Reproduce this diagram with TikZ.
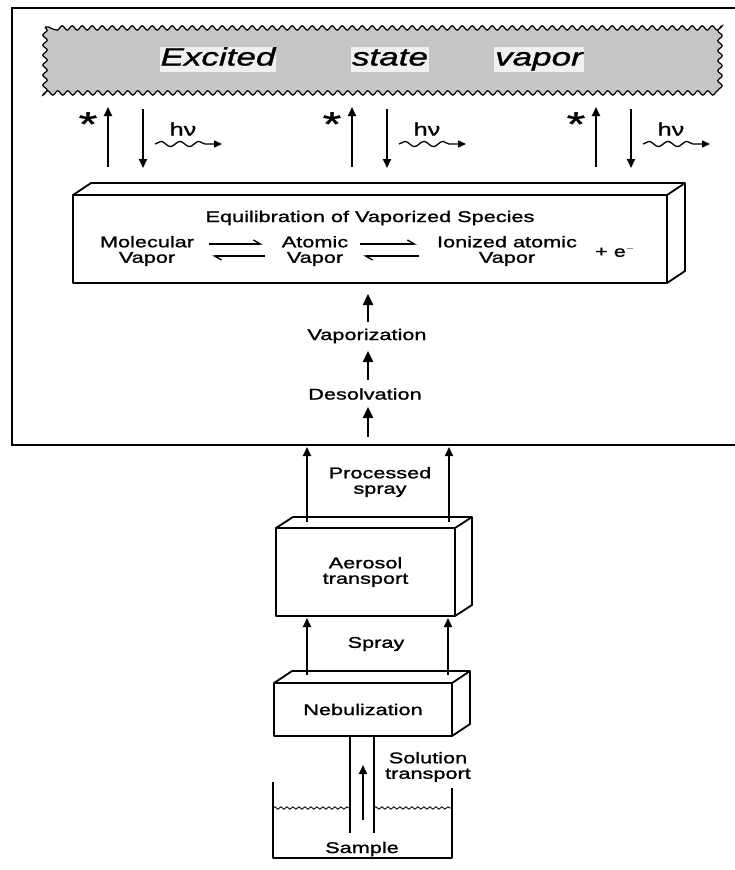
\documentclass[tikz,border=0pt]{standalone}
\usepackage{fontspec}
\setmainfont{Liberation Sans}[FakeStretch=1.40,FakeBold=1.3]
\newfontfamily\bigit{Liberation Sans}[FakeStretch=1.40,FakeBold=1.2]
\usetikzlibrary{arrows.meta,decorations.pathmorphing}
\newcommand\cuboidfaces[3]{%
  \draw[boxline] (#1.north west) -- ++(#2,#3) -- ([shift={(#2,#3)}]#1.north east)
     -- ([shift={(#2,#3)}]#1.south east) -- (#1.south east);
  \draw[boxline] (#1.north east) -- ++(#2,#3);}
\begin{document}
\begin{tikzpicture}[x=1pt,y=-1pt,
  lbl/.style={font=\fontsize{15.5}{15.5}\selectfont, align=center, inner sep=0pt},
  boxline/.style={line width=1.8pt, line join=round},
  cubebox/.style={draw, boxline, outer sep=0pt, inner sep=0pt, align=center, font=\fontsize{15.5}{15.5}\selectfont},
  arr/.style={line width=1.8pt, -{Triangle[length=9pt,width=8pt]}},
  bigarr/.style={line width=2.4pt, -{Triangle[length=11pt,width=10pt]}},
  wave/.style={line width=1.3pt, decorate, decoration={snake, amplitude=2.6pt, segment length=19pt, post length=8pt}, -{Triangle[length=8pt,width=7pt]}},
  eqarr/.style={line width=1.4pt, -{Straight Barb[harpoon,length=7pt,width=8pt]}},
  cloudtxt/.style={font=\bigit\itshape\fontsize{25}{25}\selectfont, fill=gray!12, inner sep=1pt, text height=18pt, text depth=5pt},
  star/.style={font=\fontsize{34}{34}\selectfont, inner sep=0pt},
  hnu/.style={font=\fontsize{18}{18}\selectfont, inner sep=0pt}]
\useasboundingbox (0,0) rectangle (735,870);

% outer frame
\draw[line width=2.4pt] (735,8) -- (12,8) -- (12,445) -- (735,445);

% excited state vapor cloud
\draw[line width=1.2pt, fill=gray!45, decorate, decoration={snake, amplitude=2.2pt, segment length=10pt}]
  (45,27) rectangle (717,95);
\node[cloudtxt] (ex) at (218,59) {Excited};
\node[cloudtxt] (st) at (390,59) {state};
\node[cloudtxt] (vp) at (539,59) {vapor};

% equilibration box
\node[cubebox, minimum width=594pt, minimum height=88pt] (eq) at (370,239) {};
\cuboidfaces{eq}{18}{-12}
\node[lbl] (eqt) at (370,218) {Equilibration of Vaporized Species};
\node[lbl] (mol) at (147,251) {Molecular\\Vapor};
\node[lbl] (atm) at (315,251) {Atomic\\Vapor};
\node[lbl] (ion) at (507,251) {Ionized atomic\\Vapor};
\node[lbl] (el) at (615,251) {+ e$^{-}$};
\coordinate (a1s) at (209,244); \coordinate (a1e) at (263,244);
\coordinate (b1s) at (265,256); \coordinate (b1e) at (212,256);
\coordinate (a2s) at (360,244); \coordinate (a2e) at (417,244);
\coordinate (b2s) at (419,256); \coordinate (b2e) at (363,256);
\draw[eqarr] (a1s) -- (a1e);
\draw[eqarr] (b1s) -- (b1e);
\draw[eqarr] (a2s) -- (a2e);
\draw[eqarr] (b2s) -- (b2e);

% excitation / emission arrows
\foreach \i/\x in {1/108, 2/352, 3/596} {
  \coordinate (up\i s) at (\x,167); \coordinate (up\i e) at (\x,107);
  \coordinate (dn\i s) at (\x+35,109); \coordinate (dn\i e) at (\x+35,168);
  \coordinate (wv\i s) at (\x+47,144); \coordinate (wv\i e) at (\x+114,144);
  \draw[arr] (up\i s) -- (up\i e);
  \draw[arr] (dn\i s) -- (dn\i e);
  \draw[wave] (wv\i s) -- (wv\i e);
  \node[star] (st\i) at (\x-20,124) {*};
  \node[hnu] (hn\i) at (\x+75,129) {hν};
}

% vaporization / desolvation
\node[lbl] (vap) at (367,336) {Vaporization};
\node[lbl] (des) at (365,394) {Desolvation};
\coordinate (v1s) at (368,322); \coordinate (v1e) at (368,294);
\coordinate (v2s) at (368,380); \coordinate (v2e) at (368,351);
\coordinate (v3s) at (368,437); \coordinate (v3e) at (368,407);
\draw[bigarr] (v1s) -- (v1e);
\draw[bigarr] (v2s) -- (v2e);
\draw[bigarr] (v3s) -- (v3e);

% aerosol transport
\node[cubebox, minimum width=179pt, minimum height=88pt] (aer) at (365.5,572) {Aerosol\\transport};
\cuboidfaces{aer}{17}{-11}
\coordinate (p1s) at (307,522); \coordinate (p1e) at (307,447);
\coordinate (p2s) at (449,522); \coordinate (p2e) at (449,447);
\draw[arr] (p1s) -- (p1e);
\draw[arr] (p2s) -- (p2e);
\node[lbl] (ps) at (380,482) {Processed\\spray};

% nebulization
\node[cubebox, minimum width=178pt, minimum height=53pt] (neb) at (363,709.5) {Nebulization};
\cuboidfaces{neb}{18}{-12}
\coordinate (s1s) at (307,675); \coordinate (s1e) at (307,618);
\coordinate (s2s) at (448,675); \coordinate (s2e) at (448,618);
\draw[arr] (s1s) -- (s1e);
\draw[arr] (s2s) -- (s2e);
\node[lbl] (spr) at (376,644) {Spray};

% tube and sample
\coordinate (tl) at (350,736); \coordinate (tlb) at (350,833);
\coordinate (tr) at (374,736); \coordinate (trb) at (374,833);
\draw[boxline] (tl) -- (tlb);
\draw[boxline] (tr) -- (trb);
\coordinate (ts) at (363,820); \coordinate (te) at (363,765);
\draw[arr] (ts) -- (te);
\node[lbl] (sol) at (428,767) {Solution\\transport};
\coordinate (bk1) at (273,782); \coordinate (bk2) at (273,858);
\coordinate (bk3) at (452,858); \coordinate (bk4) at (452,788);
\draw[boxline] (bk1) -- (bk2) -- (bk3) -- (bk4);
\coordinate (lq1) at (273,808); \coordinate (lq2) at (350,808);
\coordinate (lq3) at (374,808); \coordinate (lq4) at (452,808);
\draw[line width=0.9pt, decorate, decoration={snake, amplitude=1.2pt, segment length=6pt}] (lq1) -- (lq2);
\draw[line width=0.9pt, decorate, decoration={snake, amplitude=1.2pt, segment length=6pt}] (lq3) -- (lq4);
\node[lbl] (smp) at (362,849) {Sample};
\end{tikzpicture}
\end{document}
